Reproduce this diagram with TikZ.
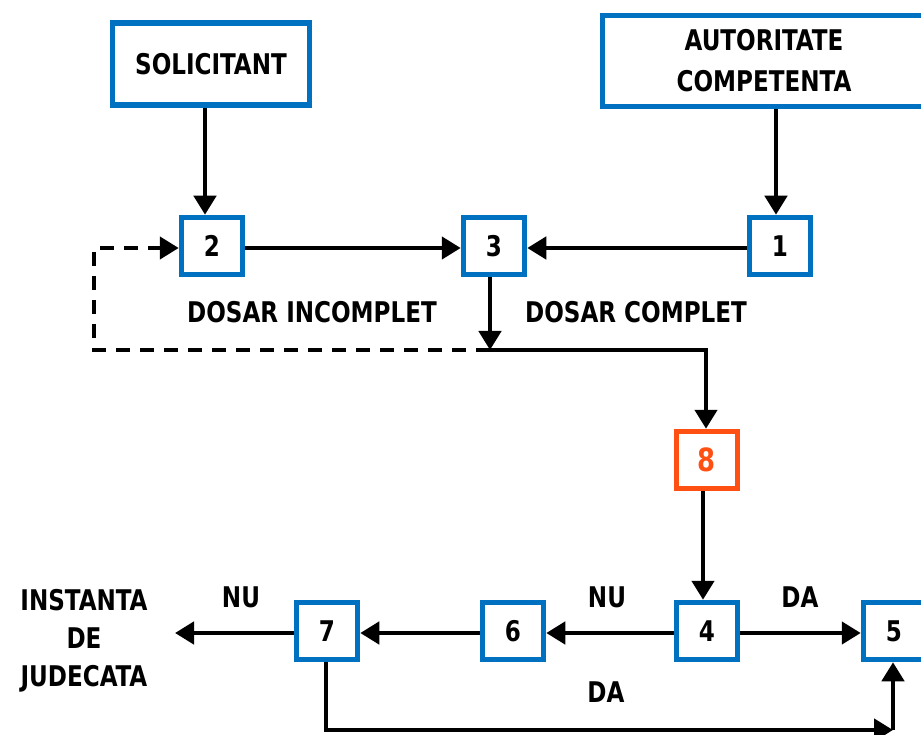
\documentclass[tikz,border=0pt]{standalone}
\usepackage{fontspec}
\setmainfont{DejaVu Sans Condensed}[BoldFont={DejaVu Sans Condensed Bold}, BoldFeatures={FakeStretch=0.9}]
\usetikzlibrary{arrows.meta}
\definecolor{boxblue}{HTML}{0070C0}
\definecolor{boxorange}{HTML}{FF5014}
\tikzset{
  x=1pt,y=-1pt,
  lbl/.style={font=\fontsize{28.5}{34}\selectfont\bfseries, inner sep=0pt, text=black},
  numbox/.style={draw=boxblue, line width=5.5pt, minimum width=61pt, minimum height=57pt, inner sep=0pt, font=\fontsize{28.5}{34}\selectfont\bfseries, fill=white},
  bigbox/.style={draw=boxblue, line width=5.5pt, inner sep=0pt, font=\fontsize{28.5}{34}\selectfont\bfseries, fill=white, align=center},
  conn/.style={line width=4.5pt, draw=black},
  arr/.style={conn, -{Triangle[length=19pt,width=22pt]}},
  darr/.style={arr, dash pattern=on 14pt off 10pt},
}
\begin{document}
\begin{tikzpicture}
\useasboundingbox (0,0) rectangle (921,735);
\clip (0,0) rectangle (921,735);
\fill[white] (0,0) rectangle (921,735);
% big boxes
\node[bigbox, minimum width=197pt, minimum height=82pt] (sol) at (211,64) {SOLICITANT};
\node[bigbox, minimum width=323pt, minimum height=91pt, text width=300pt] (aut) at (764,61) {AUTORITATE\\[7pt]COMPETENTA};
% numbered boxes
\node[numbox] (b2) at (212,246) {2};
\node[numbox] (b3) at (494,246) {3};
\node[numbox] (b1) at (780,246) {1};
\node[numbox, draw=boxorange, text=boxorange, font=\fontsize{32}{36}\selectfont\bfseries] (b8) at (707,460) {8};
\node[numbox] (b4) at (707,631) {4};
\node[numbox] (b6) at (513,631) {6};
\node[numbox] (b7) at (327,631) {7};
\node[numbox] (b5) at (894,631) {5};
% coordinates
\coordinate (j) at (490,350);
\coordinate (jr) at (706,350);
\coordinate (dl) at (94,350);
\coordinate (dt) at (94,248);
\coordinate (inst) at (175,633);
\coordinate (bl) at (326,730);
\coordinate (br) at (893,730);
% connectors
\draw[arr] (sol.south -| 205,0) -- (b2.north -| 205,0);
\draw[arr] (aut.south -| 776,0) -- (b1.north -| 776,0);
\draw[arr] (b2.east |- 0,248) -- (b3.west |- 0,248);
\draw[arr] (b1.west |- 0,248) -- (b3.east |- 0,248);
\draw[arr] (b3.south -| j) -- (j);
\draw[darr] (j) -- (dl) -- (dt) -- (b2.west |- dt);
\draw[arr] (j) -- (jr) -- (b8.north -| jr);
\draw[arr] (b8.south -| 703,0) -- (b4.north -| 703,0);
\draw[arr] (b4.west |- 0,633) -- (b6.east |- 0,633);
\draw[arr] (b6.west |- 0,633) -- (b7.east |- 0,633);
\draw[arr] (b7.west |- 0,633) -- (inst);
\draw[arr] (b4.east |- 0,633) -- (b5.west |- 0,633);
\draw[arr] (b7.south -| bl) -- (bl) -- (br);
\draw[arr] (br) -- (b5.south -| br);
% labels
\node[lbl] (tinc) at (312,312) {DOSAR INCOMPLET};
\node[lbl] (tcom) at (636,312) {DOSAR COMPLET};
\node[lbl] (nu1) at (241,597) {NU};
\node[lbl] (nu2) at (607,597) {NU};
\node[lbl] (da1) at (800,597) {DA};
\node[lbl] (da2) at (606,692) {DA};
\node[lbl, align=center] (jud) at (84,641) {INSTANTA\\[4pt]DE\\[4pt]JUDECATA};
\end{tikzpicture}
\end{document}
